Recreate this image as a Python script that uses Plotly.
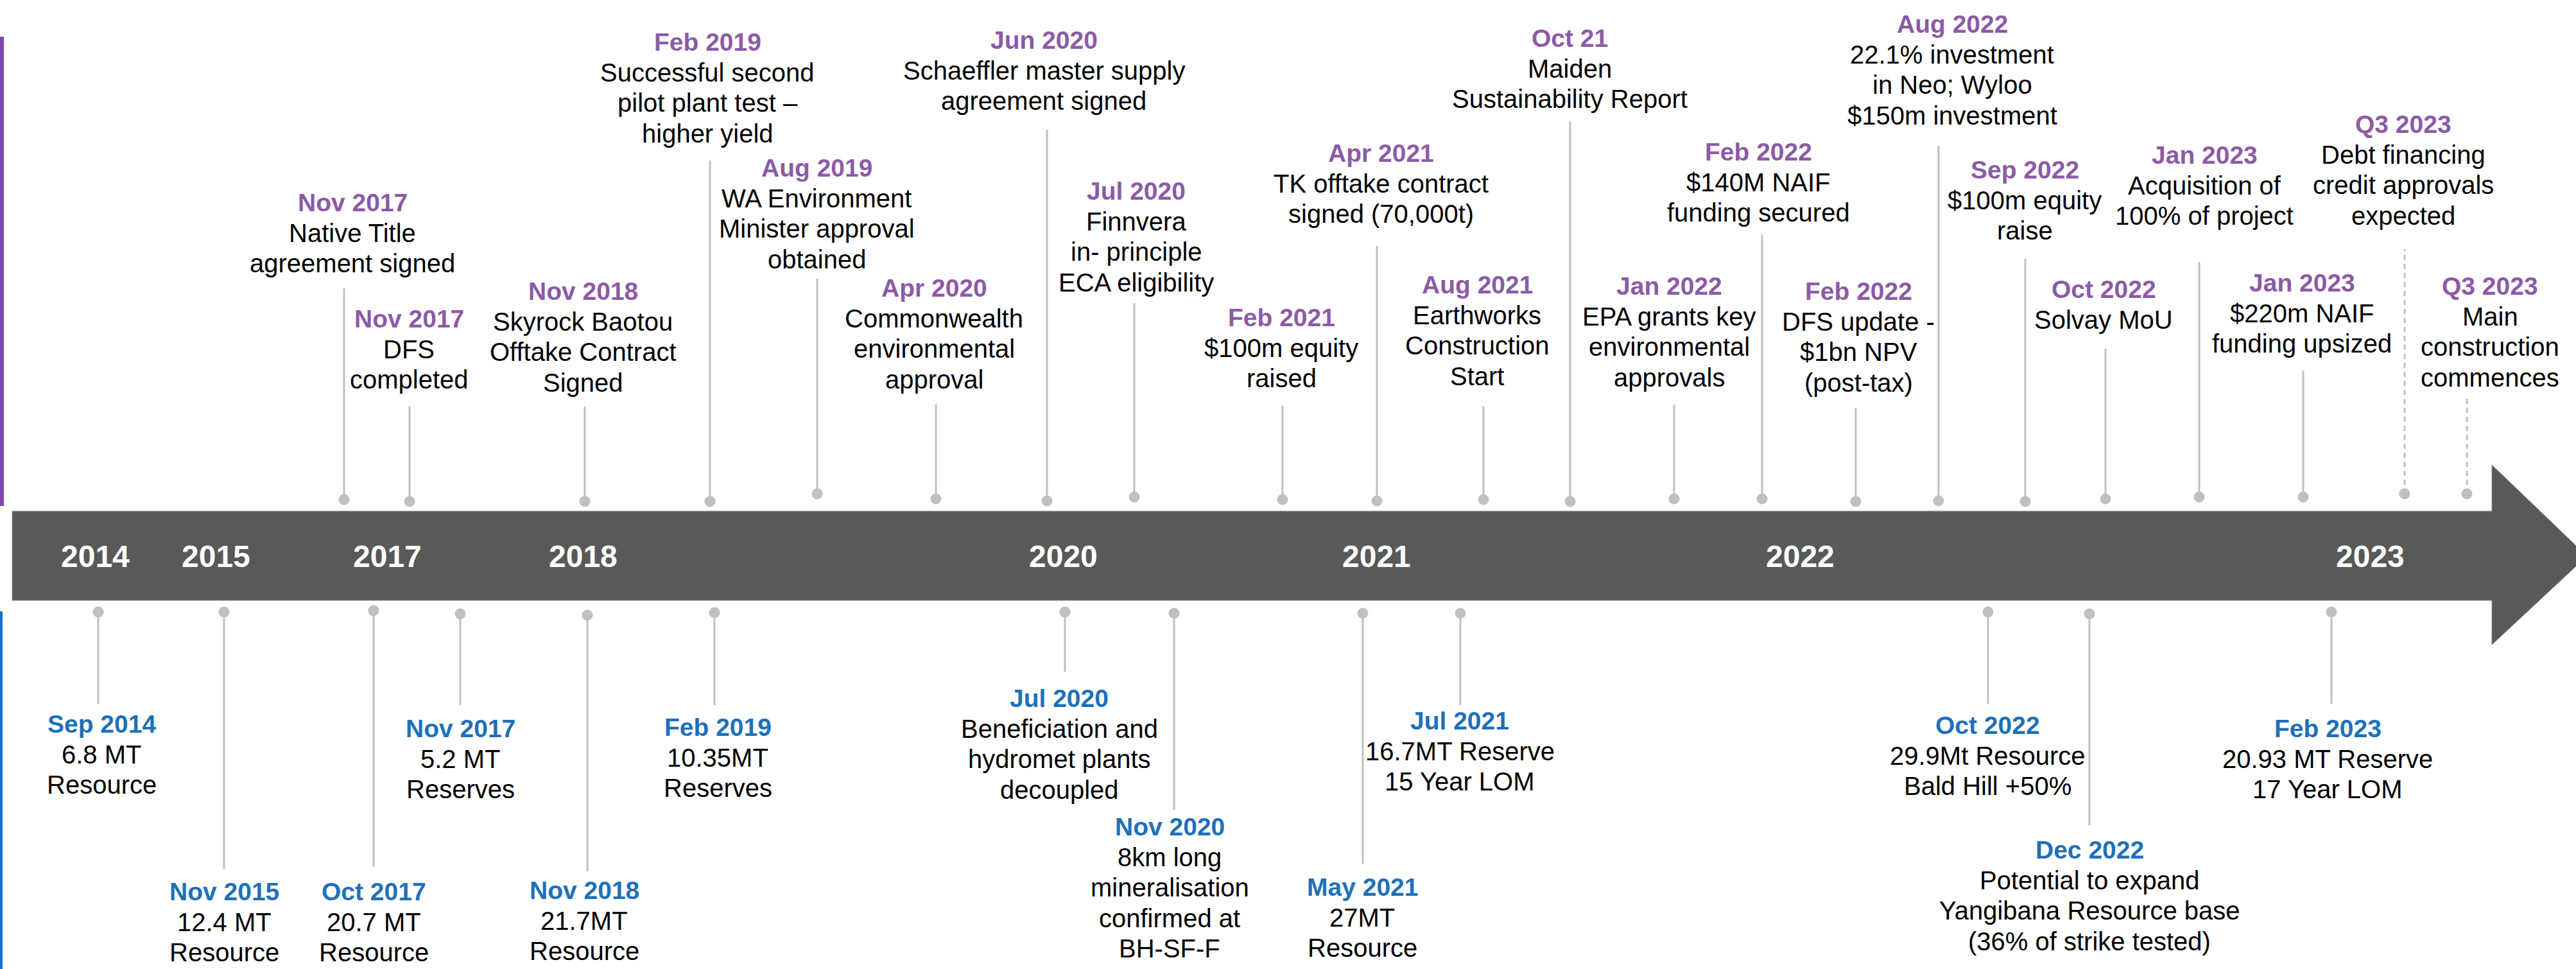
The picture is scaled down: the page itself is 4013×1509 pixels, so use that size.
import plotly.graph_objects as go

# ---------------- data ----------------
years = ["2014", "2015", "2017", "2018", "2020", "2021", "2022", "2023"]
year_pos = [148, 336, 603, 908, 1656, 2144, 2804, 3692]

# Events above the timeline (corporate milestones)
top_dates = ["Nov 2017", "Nov 2017", "Nov 2018", "Feb 2019", "Aug 2019", "Apr 2020",
             "Jun 2020", "Jul 2020", "Feb 2021", "Apr 2021", "Aug 2021", "Oct 21",
             "Jan 2022", "Feb 2022", "Feb 2022", "Aug 2022", "Sep 2022", "Oct 2022",
             "Jan 2023", "Jan 2023", "Q3 2023", "Q3 2023"]
top_texts = [
    ["Native Title", "agreement signed"],
    ["DFS", "completed"],
    ["Skyrock Baotou", "Offtake Contract", "Signed"],
    ["Successful second", "pilot plant test \u2013", "higher yield"],
    ["WA Environment", "Minister approval", "obtained"],
    ["Commonwealth", "environmental", "approval"],
    ["Schaeffler master supply", "agreement signed"],
    ["Finnvera", "in- principle", "ECA eligibility"],
    ["$100m equity", "raised"],
    ["TK offtake contract", "signed (70,000t)"],
    ["Earthworks", "Construction", "Start"],
    ["Maiden", "Sustainability Report"],
    ["EPA grants key", "environmental", "approvals"],
    ["$140M NAIF", "funding secured"],
    ["DFS update -", "$1bn NPV", "(post-tax)"],
    ["22.1% investment", "in Neo; Wyloo", "$150m investment"],
    ["$100m equity", "raise"],
    ["Solvay MoU"],
    ["Acquisition of", "100% of project"],
    ["$220m NAIF", "funding upsized"],
    ["Debt financing", "credit approvals", "expected"],
    ["Main", "construction", "commences"],
]
top_expected = [False] * 20 + [True, True]

# Events below the timeline (resource / reserve updates)
bot_dates = ["Sep 2014", "Nov 2015", "Oct 2017", "Nov 2017", "Nov 2018", "Feb 2019",
             "Jul 2020", "Nov 2020", "May 2021", "Jul 2021", "Oct 2022", "Dec 2022",
             "Feb 2023"]
bot_texts = [
    ["6.8 MT", "Resource"],
    ["12.4 MT", "Resource"],
    ["20.7 MT", "Resource"],
    ["5.2 MT", "Reserves"],
    ["21.7MT", "Resource"],
    ["10.35MT", "Reserves"],
    ["Beneficiation and", "hydromet plants", "decoupled"],
    ["8km long", "mineralisation", "confirmed at", "BH-SF-F"],
    ["27MT", "Resource"],
    ["16.7MT Reserve", "15 Year LOM"],
    ["29.9Mt Resource", "Bald Hill +50%"],
    ["Potential to expand", "Yangibana Resource base", "(36% of strike tested)"],
    ["20.93 MT Reserve", "17 Year LOM"],
]

# ---------------- layout positions (timeline units) ----------------
top_stem_x = [536, 638, 911, 1106, 1273, 1458, 1631, 1767, 1998, 2145, 2311, 2446,
              2608, 2745, 2891, 3020, 3155, 3280, 3426, 3588, 3746, 3843]
top_dot_y = [778, 781, 781, 781, 769, 777, 780, 774, 778, 780, 778, 781,
             777, 777, 781, 780, 781, 777, 774, 774, 769, 769]
top_stem_end = [449, 633, 633, 250, 434, 630, 202, 472, 632, 383, 633, 189,
                630, 365, 635, 227, 403, 543, 408, 577, 388, 617]
top_label_x = [549, 637, 908, 1102, 1272, 1455, 1626, 1770, 1996, 2151, 2301, 2445,
               2600, 2739, 2895, 3041, 3154, 3277, 3434, 3586, 3744, 3879]
top_label_y = [301, 482, 439, 51, 247, 434, 48, 283, 480, 224, 429, 45,
               431, 222, 439, 23, 250, 436, 227, 426, 179, 431]

bot_stem_x = [153, 349, 582, 717, 915, 1113, 1659, 1829, 2123, 2275, 3097, 3255, 3632]
bot_dot_y = [953, 953, 951, 956, 958, 954, 953, 955, 955, 955, 953, 956, 953]
bot_stem_end = [1096, 1353, 1350, 1098, 1357, 1098, 1046, 1261, 1345, 1098, 1096, 1285, 1096]
bot_label_x = [158, 349, 582, 717, 910, 1118, 1650, 1822, 2122, 2274, 3096, 3255, 3626]
bot_label_y = [1113, 1374, 1374, 1120, 1372, 1118, 1073, 1273, 1367, 1108, 1115, 1309, 1120]

# ---------------- styles ----------------
W, H = 4013, 1509
FONT = "Liberation Sans, Arial, sans-serif"
PURPLE = "#8C5AA6"
BLUE = "#1E70B8"
STEM = "#C0C0C0"
BAR = "#595959"
FS_TEXT = 40
FS_DATE = 39
PITCH = 47.5
CAP_MID = 14

fig = go.Figure()

# stems
def stem_trace(xs, y0s, y1s, dash):
    X, Y = [], []
    for x, a, b in zip(xs, y0s, y1s):
        X += [x, x, None]
        Y += [a, b, None]
    return go.Scatter(x=X, y=Y, mode="lines", line=dict(color=STEM, width=3, dash=dash),
                      hoverinfo="skip", showlegend=False)

solid_idx = [i for i, e in enumerate(top_expected) if not e]
dash_idx = [i for i, e in enumerate(top_expected) if e]
fig.add_trace(stem_trace([top_stem_x[i] for i in solid_idx], [top_dot_y[i] for i in solid_idx],
                         [top_stem_end[i] for i in solid_idx], "solid"))
fig.add_trace(stem_trace([top_stem_x[i] for i in dash_idx], [top_dot_y[i] for i in dash_idx],
                         [top_stem_end[i] for i in dash_idx], "8px,6px"))
fig.add_trace(stem_trace(bot_stem_x, bot_dot_y, bot_stem_end, "solid"))

# dots
fig.add_trace(go.Scatter(x=top_stem_x + bot_stem_x, y=top_dot_y + bot_dot_y, mode="markers",
                         marker=dict(size=17, color=STEM, line=dict(width=0)),
                         hoverinfo="skip", showlegend=False))

# timeline bar with arrow head
fig.add_shape(type="path",
              path="M19,796 L3882,796 L3882,724 L4030,866 L3882,1004 L3882,935 L19,935 Z",
              fillcolor=BAR, line=dict(color="#8a8a8a", width=1), layer="below")
# side accent bars
fig.add_shape(type="rect", x0=-4, x1=6, y0=57, y1=788, fillcolor="#8047AE",
              line=dict(width=0), layer="below")
fig.add_shape(type="rect", x0=-4, x1=4, y0=952, y1=1520, fillcolor="#1170CF",
              line=dict(width=0), layer="below")

annotations = []
for y, x in zip(years, year_pos):
    annotations.append(dict(x=x, y=866, text="<b>%s</b>" % y, showarrow=False,
                            xanchor="center", yanchor="middle",
                            font=dict(family=FONT, size=48, color="white")))

def add_labels(xs, ys, dates, texts, color):
    for x, y, d, lines in zip(xs, ys, dates, texts):
        allines = [("<b>%s</b>" % d, color, FS_DATE)] + [(t, "black", FS_TEXT) for t in lines]
        for k, (t, c, s) in enumerate(allines):
            annotations.append(dict(x=x, y=y + CAP_MID + k * PITCH, text=t, showarrow=False,
                                    xanchor="center", yanchor="middle",
                                    font=dict(family=FONT, size=s, color=c)))

add_labels(top_label_x, top_label_y, top_dates, top_texts, PURPLE)
add_labels(bot_label_x, bot_label_y, bot_dates, bot_texts, BLUE)

fig.update_layout(
    width=W, height=H,
    margin=dict(l=0, r=0, t=0, b=0),
    paper_bgcolor="white", plot_bgcolor="white",
    xaxis=dict(range=[0, W], visible=False, fixedrange=True),
    yaxis=dict(range=[H, 0], visible=False, fixedrange=True),
    annotations=annotations,
    showlegend=False,
)

fig.write_html("out.html", config={"displayModeBar": False},
               post_script="document.body.style.margin='0';document.body.style.overflow='hidden';")
